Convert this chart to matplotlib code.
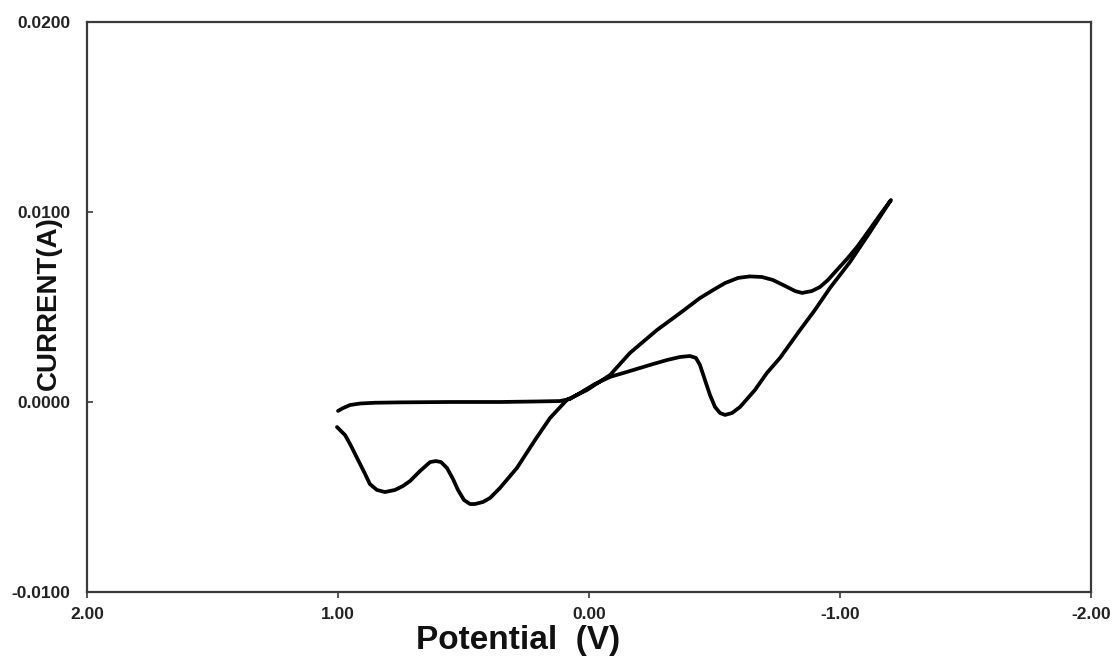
import matplotlib
matplotlib.use("Agg")
import matplotlib.pyplot as plt
from matplotlib.ticker import FormatStrFormatter

plt.rcParams['font.family'] = ['Liberation Sans', 'DejaVu Sans']
plt.rcParams['axes.unicode_minus'] = False

# forward scan, 1.0 V -> -1.2 V
fwd_potential = [1.000, 0.980, 0.952, 0.912, 0.853, 0.753, 0.554, 0.355, 0.195, 0.116,
                 0.076, 0.036, -0.024, -0.084, -0.163, -0.243, -0.311, -0.363, -0.402,
                 -0.426, -0.442, -0.462, -0.482, -0.502, -0.522, -0.542, -0.570, -0.602,
                 -0.661, -0.709, -0.761, -0.841, -0.900, -0.960, -1.040, -1.120, -1.203]
fwd_current = [-0.00047, -0.00032, -0.00016, -0.00008, -0.00004, -0.00002, 0.0, 0.0,
               0.00003, 0.00005, 0.00016, 0.00047, 0.00095, 0.00132, 0.00163, 0.00195,
               0.00221, 0.00237, 0.00242, 0.00232, 0.00195, 0.00116, 0.00037, -0.00026,
               -0.00058, -0.00068, -0.00058, -0.00026, 0.00063, 0.00153, 0.00232, 0.00379,
               0.00484, 0.00600, 0.00737, 0.00895, 0.01063]

# reverse scan, -1.2 V -> 1.0 V
rev_potential = [-1.203, -1.159, -1.108, -1.068, -1.028, -0.988, -0.952, -0.920, -0.888,
                 -0.849, -0.821, -0.781, -0.733, -0.689, -0.641, -0.594, -0.542, -0.494,
                 -0.442, -0.363, -0.271, -0.163, -0.084, 0.008, 0.088, 0.155, 0.215, 0.287,
                 0.355, 0.394, 0.422, 0.454, 0.474, 0.498, 0.522, 0.542, 0.566, 0.590,
                 0.610, 0.633, 0.673, 0.713, 0.741, 0.773, 0.813, 0.845, 0.873, 0.892,
                 0.924, 0.952, 0.972, 1.004]
rev_current = [0.01063, 0.00984, 0.00889, 0.00816, 0.00753, 0.00695, 0.00642, 0.00605,
               0.00584, 0.00574, 0.00584, 0.00611, 0.00642, 0.00658, 0.00661, 0.00653,
               0.00626, 0.00589, 0.00547, 0.00468, 0.00379, 0.00258, 0.00142, 0.00063,
               0.00011, -0.00084, -0.00200, -0.00347, -0.00453, -0.00505, -0.00526,
               -0.00537, -0.00537, -0.00516, -0.00463, -0.00405, -0.00347, -0.00316,
               -0.00311, -0.00316, -0.00363, -0.00416, -0.00442, -0.00463, -0.00474,
               -0.00463, -0.00432, -0.00379, -0.00295, -0.00221, -0.00174, -0.00132]

x_ticks = [2.0, 1.0, 0.0, -1.0, -2.0]
y_ticks = [-0.01, 0.0, 0.01, 0.02]

fig = plt.figure(figsize=(11.17, 6.59), dpi=100)
ax = fig.add_axes([0.0779, 0.1017, 0.8988, 0.8649])

potential = fwd_potential + rev_potential[1:]
current = fwd_current + rev_current[1:]
ax.plot(potential, current, color='black', lw=2.7,
        solid_joinstyle='round', solid_capstyle='round')

ax.set_xlim(2.0, -2.0)
ax.set_ylim(-0.01, 0.02)
ax.set_xticks(x_ticks)
ax.set_yticks(y_ticks)
ax.xaxis.set_major_formatter(FormatStrFormatter('%.2f'))
ax.yaxis.set_major_formatter(FormatStrFormatter('%.4f'))

for s in ax.spines.values():
    s.set_color('#3a3a3a')
    s.set_linewidth(1.6)

ax.tick_params(axis='x', direction='out', length=4, width=1.2, pad=7,
               labelsize=12.5, colors='#3a3a3a', labelcolor='#222222')
ax.tick_params(axis='y', direction='in', length=4.5, width=1.2, pad=12,
               labelsize=12.5, colors='#3a3a3a', labelcolor='#222222')
for lab in ax.get_xticklabels() + ax.get_yticklabels():
    lab.set_fontweight('bold')

fig.text(0.464, 0.028, 'Potential  (V)', fontsize=24, fontweight='bold',
         ha='center', va='center', color='#111111')
fig.text(0.044, 0.54, 'CURRENT(A)', fontsize=20, fontweight='bold',
         rotation=90, ha='center', va='center', color='#111111')

fig.savefig('out.png', dpi=100)
